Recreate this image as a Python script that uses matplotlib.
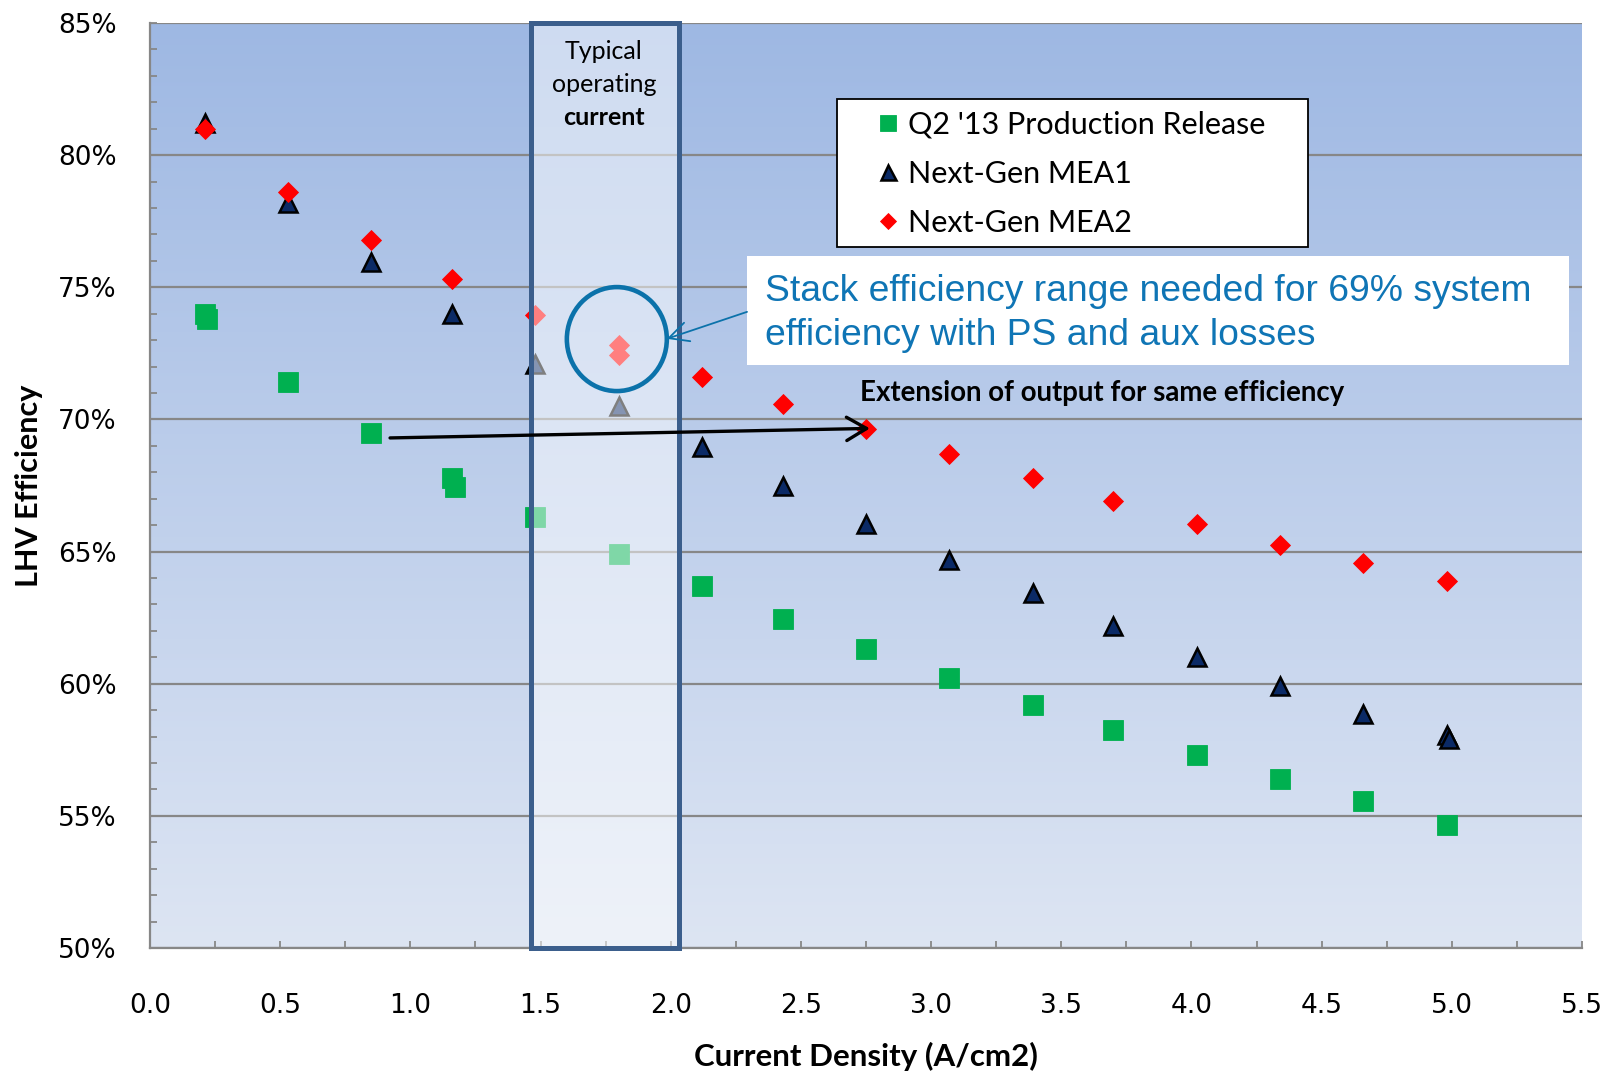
import numpy as np
import matplotlib
matplotlib.use("Agg")
import matplotlib.pyplot as plt
from matplotlib.patches import Rectangle, Ellipse
from matplotlib.ticker import FixedLocator, MultipleLocator, FuncFormatter

# Current density (A/cm2) and LHV efficiency (%) for each MEA
cd_q2 = [0.21, 0.22, 0.53, 0.85, 1.16, 1.17, 1.48, 1.80, 2.12, 2.43, 2.75,
         3.07, 3.39, 3.70, 4.02, 4.34, 4.66, 4.98]
eff_q2 = [74.0, 73.8, 71.4, 69.5, 67.8, 67.45, 66.3, 64.9, 63.7, 62.45, 61.3,
          60.2, 59.2, 58.25, 57.3, 56.4, 55.55, 54.65]

cd_mea1 = [0.21, 0.53, 0.85, 1.16, 1.48, 1.80, 2.12, 2.43, 2.75, 3.07, 3.39,
           3.70, 4.02, 4.34, 4.66, 4.98, 4.99]
eff_mea1 = [81.2, 78.2, 75.95, 74.0, 72.1, 70.5, 68.95, 67.5, 66.05, 64.7,
            63.45, 62.2, 61.0, 59.9, 58.85, 58.05, 57.9]

cd_mea2 = [0.21, 0.53, 0.85, 1.16, 1.48, 1.80, 1.80, 2.12, 2.43, 2.75, 3.07,
           3.39, 3.70, 4.02, 4.34, 4.66, 4.98]
eff_mea2 = [81.0, 78.6, 76.8, 75.3, 73.95, 72.8, 72.45, 71.6, 70.6, 69.65,
            68.7, 67.8, 66.9, 66.05, 65.25, 64.55, 63.9]

series_labels = ["Q2 '13 Production Release", "Next-Gen MEA1", "Next-Gen MEA2"]

x_ticks = [0.0, 0.5, 1.0, 1.5, 2.0, 2.5, 3.0, 3.5, 4.0, 4.5, 5.0, 5.5]
y_ticks = [50, 55, 60, 65, 70, 75, 80, 85]

W, H = 1611, 1075
fig = plt.figure(figsize=(W / 100, H / 100), dpi=100)
ax = fig.add_axes([150 / W, 1 - 948 / H, (1582 - 150) / W, (948 - 23) / H])
ax.set_xlim(0, 5.5)
ax.set_ylim(50, 85)

# vertical blue gradient fill of the plot area
top_c = np.array([158, 184, 227]) / 255
bot_c = np.array([221, 229, 243]) / 255
t = np.linspace(0, 1, 256)[:, None, None]
grad = top_c + (bot_c - top_c) * t
ax.imshow(grad, extent=[0, 5.5, 50, 85], aspect="auto", origin="upper",
          zorder=0, interpolation="bilinear")

gray = "#878787"
ax.set_axisbelow(True)
ax.yaxis.set_major_locator(FixedLocator(y_ticks))
ax.yaxis.set_minor_locator(MultipleLocator(1))
ax.xaxis.set_major_locator(FixedLocator(x_ticks))
ax.xaxis.set_minor_locator(MultipleLocator(0.25))
ax.yaxis.set_major_formatter(FuncFormatter(lambda v, p: f"{v:.0f}%"))
ax.xaxis.set_major_formatter(FuncFormatter(lambda v, p: f"{v:.1f}"))
ax.yaxis.grid(True, which="major", color=gray, lw=1.6)
for side in ("top", "right"):
    ax.spines[side].set_visible(False)
for side in ("left", "bottom"):
    ax.spines[side].set_color(gray)
    ax.spines[side].set_linewidth(1.6)
ax.tick_params(which="both", direction="in", color=gray, length=5, width=1.3)
ax.tick_params(axis="y", which="major", pad=24, labelsize=19,
               labelfontfamily="DejaVu Sans")
ax.tick_params(axis="x", which="major", pad=32.5, labelsize=19,
               labelfontfamily="DejaVu Sans")

ax.set_xlabel("Current Density (A/cm2)", family="Lato", weight="bold",
              size=22.5, va="center")
ax.xaxis.set_label_coords(0.5, -(1056 - 948) / (948 - 23))
ax.set_ylabel("LHV Efficiency", family="Lato", weight="bold", size=22,
              va="center")
ax.yaxis.set_label_coords(-(150 - 29) / (1582 - 150), 0.5)

# data series
h1, = ax.plot(cd_q2, eff_q2, ls="none", marker="s", ms=14.5,
              mfc="#00B050", mec="#00B050", mew=0.6, zorder=3)
h2, = ax.plot(cd_mea1, eff_mea1, ls="none", marker="^", ms=13.5,
              mfc="#0B2A66", mec="black", mew=1.8, zorder=3.1)
h3, = ax.plot(cd_mea2, eff_mea2, ls="none", marker="D", ms=10.2,
              mfc="#FF0000", mec="#FF0000", mew=0.6, zorder=3.2)

# typical operating current band
ax.add_patch(Rectangle((1.463, 50), 0.568, 35, facecolor=(1, 1, 1, 0.5),
                       edgecolor="#3B5E8C", lw=3.6, zorder=4, clip_on=False))
ax.text(1.743, 83.94, "Typical", ha="center", va="center", family="Lato",
        size=18, zorder=5)
ax.text(1.743, 82.69, "operating", ha="center", va="center", family="Lato",
        size=18, zorder=5)
ax.text(1.743, 81.44, "current", ha="center", va="center", family="Lato",
        weight="bold", size=18, zorder=5)

# legend with a separate white frame
ax.add_patch(Rectangle((2.638, 76.525), 1.809, 5.6, facecolor="white",
                       edgecolor="black", lw=1.3, zorder=5))
leg = ax.legend([h1, h2, h3], series_labels, loc="upper left",
                bbox_to_anchor=(873 / W, 1 - 111 / H),
                bbox_transform=fig.transFigure, frameon=False, borderpad=0,
                borderaxespad=0, handlelength=1.0, handletextpad=0.15,
                labelspacing=0.69, markerscale=0.8,
                prop={"family": "Lato", "size": 22})
leg.set_zorder(6)

# stack efficiency callout
blue = "#0B72AA"
ax.add_patch(Rectangle((2.293, 72.06), 3.156, 4.12, facecolor="white",
                       edgecolor="none", zorder=5))
ax.text(2.362, 74.83, "Stack efficiency range needed for 69% system",
        ha="left", va="center", family="Liberation Sans", size=26.8,
        color="#0F75B5", zorder=6)
ax.text(2.362, 73.16, "efficiency with PS and aux losses",
        ha="left", va="center", family="Liberation Sans", size=26.8,
        color="#0F75B5", zorder=6)
ax.add_patch(Ellipse((1.793, 73.04), 0.384, 3.935, facecolor="none",
                     edgecolor=blue, lw=3.3, zorder=6))
ax.annotate("", xy=(1.985, 73.05), xytext=(2.293, 74.07),
            arrowprops=dict(arrowstyle="->,head_length=0.7,head_width=0.35",
                            color=blue, lw=1.3, shrinkA=0, shrinkB=0,
                            mutation_scale=20), zorder=6)

# extension arrow
ax.annotate("", xy=(2.765, 69.66), xytext=(0.922, 69.30),
            arrowprops=dict(arrowstyle="->,head_length=0.6,head_width=0.35",
                            color="black", lw=2.4, shrinkA=0, shrinkB=0,
                            mutation_scale=24), zorder=6)
ax.text(3.658, 71.0, "Extension of output for same efficiency",
        ha="center", va="center", family="Lato", weight="bold", size=19.9,
        zorder=6)

fig.savefig("out.png", dpi=100)
